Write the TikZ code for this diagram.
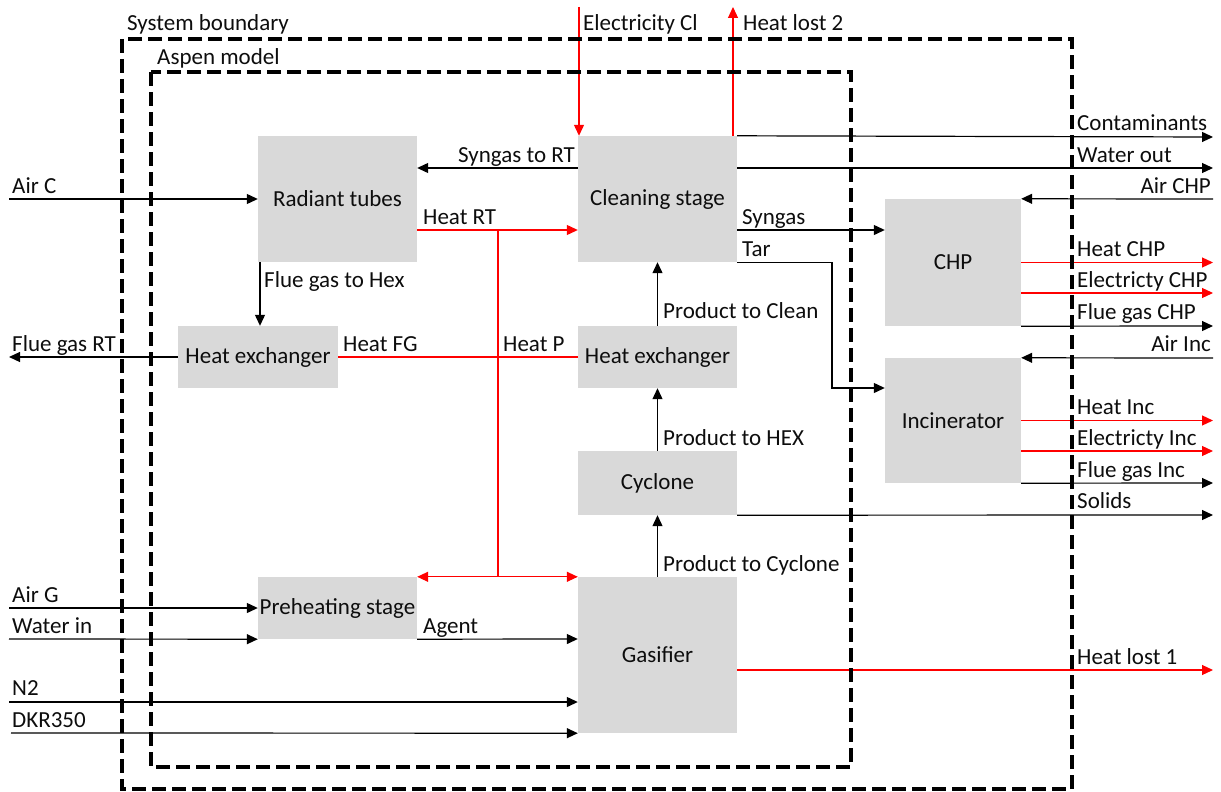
\documentclass[tikz,border=0pt]{standalone}
\usepackage{fontspec}
\setmainfont{Carlito}
\usetikzlibrary{arrows.meta}
\definecolor{boxgray}{HTML}{D9D9D9}
\newcommand\labfont{\fontsize{23}{27}\selectfont}
\begin{document}
\begin{tikzpicture}[x=1pt,y=-1pt,
  blk/.style={fill=boxgray, draw=none, inner sep=0, font=\labfont, text=black!95},
  ln/.style={line width=1.2pt, draw=black},
  arr/.style={ln, -{Triangle[length=11pt,width=10pt]}},
  rln/.style={line width=1.2pt, draw=red},
  rarr/.style={rln, -{Triangle[length=11pt,width=10pt]}},
  lab/.style={anchor=base west, inner sep=0, font=\labfont, text=black!95},
  labr/.style={anchor=base east, inner sep=0, font=\labfont, text=black!95},
  bound/.style={line width=3.5pt, dash pattern=on 14pt off 6pt}
]
\useasboundingbox (0,0) rectangle (1221,792);

% boxes
\node[blk, minimum width=159pt, minimum height=126pt] (rt)   at (337.5,199) {Radiant tubes};
\node[blk, minimum width=159pt, minimum height=126pt] (cl)   at (657.5,199) {Cleaning stage};
\node[blk, minimum width=160pt, minimum height=62pt]  (hexL) at (258,357)   {Heat exchanger};
\node[blk, minimum width=159pt, minimum height=62pt]  (hexR) at (657.5,357) {Heat exchanger};
\node[blk, minimum width=159pt, minimum height=64pt]  (cyc)  at (657.5,483) {Cyclone};
\node[blk, minimum width=159pt, minimum height=62pt]  (pre)  at (337.5,608) {Preheating stage};
\node[blk, minimum width=159pt, minimum height=156pt] (gas)  at (657.5,655) {Gasifier};
\node[blk, minimum width=136pt, minimum height=127pt] (chp)  at (953,262.5) {CHP};
\node[blk, minimum width=136pt, minimum height=125pt] (inc)  at (953,420.5) {Incinerator};

% free ends
\coordinate (airC)   at (9,199);
\coordinate (flueRT) at (9,357);
\coordinate (airG)   at (9,608);
\coordinate (watIn)  at (9,639);
\coordinate (nTwo)   at (9,702);
\coordinate (dkr)    at (11,733);
\coordinate (elTop)  at (579,7);
\coordinate (hlTop)  at (733,7);
\coordinate (contE)  at (1213,137);
\coordinate (watE)   at (1213,168);
\coordinate (airCHP) at (1213,199);
\coordinate (heatCHP) at (1213,262.5);
\coordinate (elCHP)  at (1213,293);
\coordinate (flCHP)  at (1213,326);
\coordinate (airInc) at (1213,358);
\coordinate (heatInc) at (1213,420.5);
\coordinate (elInc)  at (1213,451);
\coordinate (flInc)  at (1213,483);
\coordinate (solE)   at (1213,515);
\coordinate (hl1E)   at (1213,670);
\coordinate (jt) at (498,230);
\coordinate (jb) at (498,577);

% black connectors
\draw[arr] (airC) -- (rt.west);
\draw[arr] (cl.west |- 0,168) -- (rt.east |- 0,168);
\draw[arr] (260,0 |- rt.south) -- (260,0 |- hexL.north);
\draw[arr] (hexL.west) -- (flueRT);
\draw[arr] (cl.north east) -- (contE);
\draw[arr] (cl.east |- 0,168) -- (watE);
\draw[arr] (airCHP) -- (chp.north east);
\draw[arr] (cl.east |- 0,230) -- (chp.west |- 0,230);
\draw[arr] (cl.south east) -- (832,0 |- cl.south east) |- (inc.west |- 0,388);
\draw[arr] (chp.south east) -- (flCHP);
\draw[arr] (airInc) -- (inc.north east);
\draw[arr] (inc.south east) -- (flInc);
\draw[arr] (cyc.south east) -- (solE);
\draw[arr] (hexR.north) -- (cl.south);
\draw[arr] (cyc.north) -- (hexR.south);
\draw[arr] (gas.north) -- (cyc.south);
\draw[arr] (airG) -- (pre.west);
\draw[arr] (watIn) -- (pre.south west);
\draw[arr] (pre.south east) -- (gas.west |- 0,639);
\draw[arr] (nTwo) -- (gas.west |- 0,702);
\draw[arr] (dkr) -- (gas.south west);

% red connectors
\draw[rarr] (rt.east |- 0,230) -- (cl.west |- 0,230);
\draw[rln] (jt) -- (jb);
\draw[rln, {Triangle[length=11pt,width=10pt]}-{Triangle[length=11pt,width=10pt]}] (pre.north east) -- (gas.north west);
\draw[rln] (hexL.east) -- (hexR.west);
\draw[rarr] (elTop) -- (579,0 |- cl.north);
\draw[rarr] (733,0 |- cl.north) -- (hlTop);
\draw[rarr] (chp.east) -- (heatCHP);
\draw[rarr] (chp.east |- 0,293) -- (elCHP);
\draw[rarr] (inc.east) -- (heatInc);
\draw[rarr] (inc.east |- 0,451) -- (elInc);
\draw[rarr] (gas.east |- 0,670) -- (hl1E);

% boundaries
\draw[bound] (122,39) rectangle (1072,789);
\draw[bound] (151,72) rectangle (851,767);
\node[lab] (lsys) at (127,31) {System boundary};
\node[lab] (lasp) at (157,64) {Aspen model};

% labels
\node[lab] at (12,193) {Air C};
\node[labr] at (575,162) {Syngas to RT};
\node[lab] at (423,224) {Heat RT};
\node[lab] at (264,287) {Flue gas to Hex};
\node[lab] at (12,351) {Flue gas RT};
\node[lab] at (343,351) {Heat FG};
\node[lab] at (503,351) {Heat P};
\node[lab] at (583,31) {Electricity Cl};
\node[lab] at (743,31) {Heat lost 2};
\node[lab] at (1077,130) {Contaminants};
\node[lab] at (1077,162) {Water out};
\node[labr] at (1211,193) {Air CHP};
\node[lab] at (742,224) {Syngas};
\node[lab] at (742,256) {Tar};
\node[lab] at (1077,256) {Heat CHP};
\node[lab] at (1077,287) {Electricty CHP};
\node[lab] at (1077,319) {Flue gas CHP};
\node[labr] at (1211,351) {Air Inc};
\node[lab] at (1077,414) {Heat Inc};
\node[lab] at (1077,445) {Electricty Inc};
\node[lab] at (1077,477) {Flue gas Inc};
\node[lab] at (1077,508) {Solids};
\node[lab] at (1077,664) {Heat lost 1};
\node[lab] at (663,318) {Product to Clean};
\node[lab] at (663,445) {Product to HEX};
\node[lab] at (663,571) {Product to Cyclone};
\node[lab] at (12,602) {Air G};
\node[lab] at (12,633) {Water in};
\node[lab] at (12,695) {N2};
\node[lab] at (12,727) {DKR350};
\node[lab] at (423,633) {Agent};
\end{tikzpicture}
\end{document}
